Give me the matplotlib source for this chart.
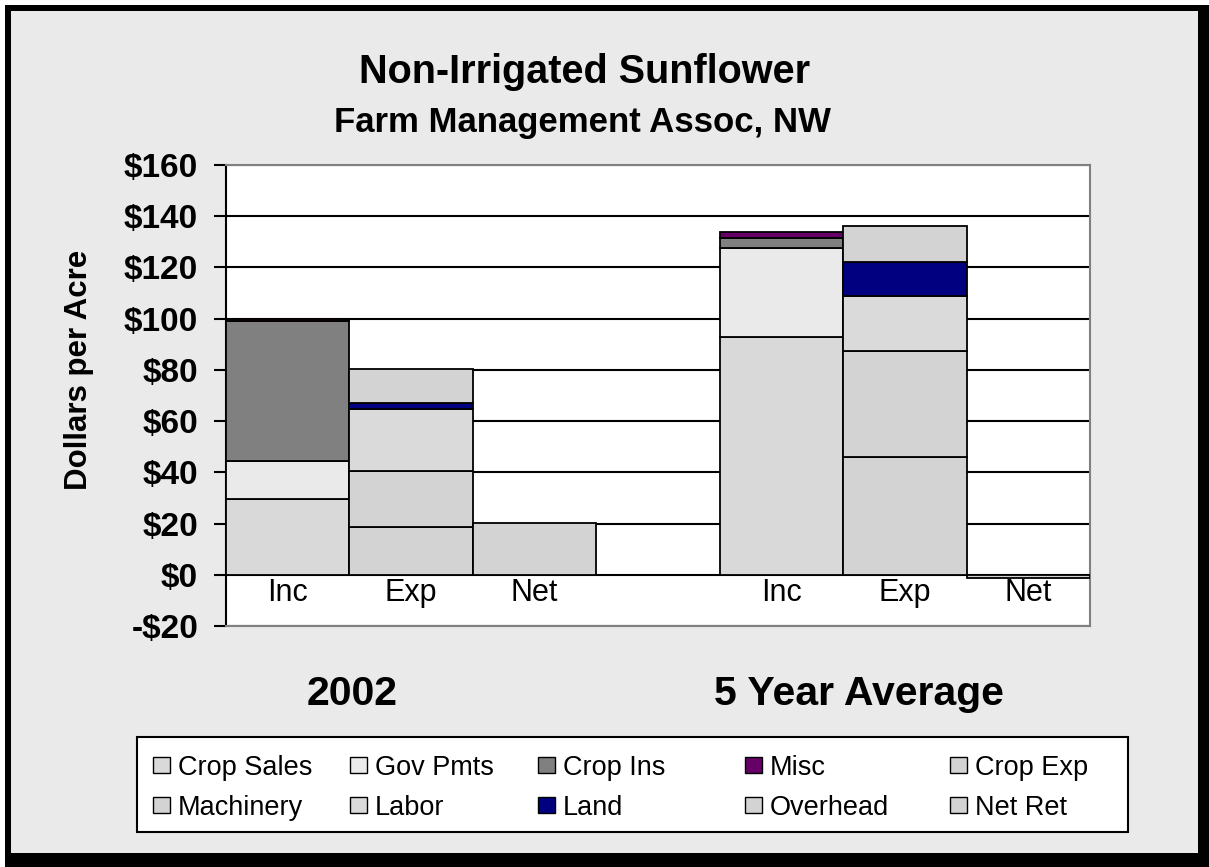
import matplotlib
matplotlib.use("Agg")
import matplotlib.pyplot as plt
from matplotlib.patches import Rectangle
import numpy as np

plt.rcParams['font.family'] = ['Liberation Sans', 'DejaVu Sans']

# ---------------- data ----------------
categories = ["Inc", "Exp", "Net", "", "Inc", "Exp", "Net"]
group_labels = ["2002", "5 Year Average"]

series_names = ["Crop Sales", "Gov Pmts", "Crop Ins", "Misc", "Crop Exp",
                "Machinery", "Labor", "Land", "Overhead", "Net Ret"]
series_colors = ["#D9D9D9", "#EAEAEA", "#808080", "#660066", "#D3D3D3",
                 "#D3D3D3", "#DADADA", "#000080", "#D3D3D3", "#D3D3D3"]

crop_sales = [29.5, 0, 0, 0, 92.7, 0, 0]
gov_pmts   = [15.0, 0, 0, 0, 35.0, 0, 0]
crop_ins   = [54.5, 0, 0, 0, 3.7, 0, 0]
misc       = [1.0, 0, 0, 0, 2.3, 0, 0]
crop_exp   = [0, 18.8, 0, 0, 0, 46.0, 0]
machinery  = [0, 21.8, 0, 0, 0, 41.3, 0]
labor      = [0, 24.0, 0, 0, 0, 21.7, 0]
land       = [0, 2.3, 0, 0, 0, 13.3, 0]
overhead   = [0, 13.3, 0, 0, 0, 14.0, 0]
net_ret    = [0, 0, 20.1, 0, 0, 0, -1.3]

series = [crop_sales, gov_pmts, crop_ins, misc, crop_exp,
          machinery, labor, land, overhead, net_ret]

yticks = [-20, 0, 20, 40, 60, 80, 100, 120, 140, 160]

# ---------------- figure ----------------
W, H = 1209, 867
fig = plt.figure(figsize=(W / 100, H / 100), dpi=100)
fig.patch.set_facecolor("white")

def fx(px):
    return px / W

def fy(py):
    return 1 - py / H

# outer frame with shadow
fig.add_artist(Rectangle((fx(5), fy(867)), fx(1209) - fx(5), fy(5) - fy(867),
                         transform=fig.transFigure, facecolor="black",
                         edgecolor="none", zorder=-10))
fig.add_artist(Rectangle((fx(11), fy(853)), fx(1198) - fx(11), fy(11) - fy(853),
                         transform=fig.transFigure, facecolor="#EAEAEA",
                         edgecolor="none", zorder=-9))

ax = fig.add_axes([fx(226), fy(626), fx(1090) - fx(226), fy(165) - fy(626)])
ax.set_facecolor("white")

x = np.arange(len(categories))
bottom_pos = np.zeros(len(categories))
bottom_neg = np.zeros(len(categories))
for name, vals, col in zip(series_names, series, series_colors):
    vals = np.array(vals, dtype=float)
    idx = np.nonzero(vals)[0]
    if len(idx) == 0:
        continue
    bottoms = np.where(vals[idx] >= 0, bottom_pos[idx], bottom_neg[idx])
    ax.bar(x[idx], vals[idx], bottom=bottoms, width=1.0, color=col,
           edgecolor="black", linewidth=1.3, label=name, zorder=3)
    for i in idx:
        if vals[i] >= 0:
            bottom_pos[i] += vals[i]
        else:
            bottom_neg[i] += vals[i]

ax.set_xlim(-0.5, len(categories) - 0.5)
ax.set_ylim(-20, 160)
ax.set_yticks(yticks)
ax.set_yticklabels([("-$%d" % -v) if v < 0 else ("$%d" % v) for v in yticks],
                   fontsize=24, fontweight="bold")
ax.tick_params(axis="y", direction="out", length=9, width=1.5, pad=11)
ax.set_xticks([])
ax.yaxis.grid(True, color="black", linewidth=1.5, zorder=1)
ax.set_axisbelow(True)

for s in ["top", "right", "bottom"]:
    ax.spines[s].set_color("#808080")
    ax.spines[s].set_linewidth(1.5)
ax.spines["left"].set_color("black")
ax.spines["left"].set_linewidth(1.5)

# category labels just below zero line
for xi, lab in zip(x, categories):
    if lab:
        ax.text(xi, -7.0, lab, ha="center", va="center", fontsize=22, zorder=5)

# titles
fig.text(fx(585), fy(83), "Non-Irrigated Sunflower", ha="center", va="baseline",
         fontsize=28.5, fontweight="bold")
fig.text(fx(582), fy(132), "Farm Management Assoc, NW", ha="center", va="baseline",
         fontsize=25, fontweight="bold")
fig.text(fx(79), fy(370), "Dollars per Acre", ha="center", va="center",
         rotation=90, fontsize=22.5, fontweight="bold")

# group labels
fig.text(fx(352), fy(705), group_labels[0], ha="center", va="baseline",
         fontsize=29.5, fontweight="bold")
fig.text(fx(859), fy(705), group_labels[1], ha="center", va="baseline",
         fontsize=29.5, fontweight="bold")

# legend (row-major, 5 columns)
fig.add_artist(Rectangle((fx(137), fy(832)), fx(1128) - fx(137), fy(737) - fy(832),
                         transform=fig.transFigure, facecolor="white",
                         edgecolor="black", linewidth=1.5, zorder=1))
col_x = [153, 350, 538, 745, 950]
row_y = [765, 805]
for k, (name, col) in enumerate(zip(series_names, series_colors)):
    r, c = divmod(k, 5)
    hx, hy = col_x[c], row_y[r]
    fig.add_artist(Rectangle((fx(hx), fy(hy + 8)), fx(17), 16 / H,
                             transform=fig.transFigure, facecolor=col,
                             edgecolor="black", linewidth=1.0, zorder=2))
    fig.text(fx(hx + 25), fy(hy), name, ha="left", va="center_baseline",
             fontsize=19.5, zorder=3)

fig.savefig("out.png", dpi=100, facecolor=fig.get_facecolor())
